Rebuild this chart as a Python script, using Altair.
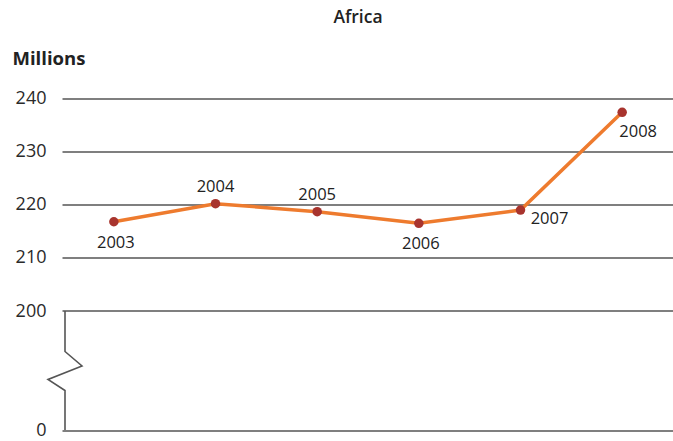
import altair as alt
import pandas as pd

# Population (millions) by year
years = [2003, 2004, 2005, 2006, 2007, 2008]
values = [216.8, 220.2, 218.7, 216.5, 219.0, 237.4]
label_side = ["below", "above", "above", "below", "right", "below-right"]
y_ticks = [0, 200, 210, 220, 230, 240]
chart_title = ["Africa"]

FONT = "Open Sans"
W, H = 611, 331.5              # plot area
Y_TOP, Y_BREAK = 240, 200      # upper band shown to scale
BAND_PX = 212.5                # pixel height of the 200-240 band
px_per_unit = BAND_PX / (Y_TOP - Y_BREAK)
LOW_SPAN = (H - BAND_PX) / px_per_unit   # display units used by the squeezed 0-200 band
Y_ZERO = Y_BREAK - LOW_SPAN             # display position of the 0 line
X_DOMAIN = [2002.49, 2008.5]


def to_display(v):
    """Map a value onto the broken axis (0-200 compressed into the bottom band)."""
    return v if v >= Y_BREAK else Y_BREAK - (Y_BREAK - v) / Y_BREAK * LOW_SPAN


df = pd.DataFrame({
    "year": years,
    "value": values,
    "pos": [to_display(v) for v in values],
    "side": label_side,
})

x_scale = alt.Scale(domain=X_DOMAIN, nice=False, zero=False)
y_scale = alt.Scale(domain=[Y_ZERO, Y_TOP], nice=False, zero=False)
tick_pos = [to_display(t) for t in y_ticks]

x_enc = alt.X("year:Q", scale=x_scale, axis=None)
y_enc = alt.Y(
    "pos:Q",
    scale=y_scale,
    axis=alt.Axis(
        values=tick_pos,
        labelExpr=f"datum.value < {Y_BREAK - 1} ? '0' : format(datum.value, 'd')",
        grid=True,
        gridColor="#555555",
        gridWidth=1.6,
        ticks=False,
        domain=False,
        labelFont=FONT,
        labelFontSize=18,
        labelColor="#2a2a2a",
        labelPadding=16,
        title="Millions",
        titleAngle=0,
        titleAlign="left",
        titleBaseline="alphabetic",
        titleX=-50,
        titleY=-34,
        titleFont=FONT,
        titleFontSize=18.5,
        titleFontWeight="bold",
        titleColor="#222222",
    ),
)

base = alt.Chart(df)

line = base.mark_line(color="#EE7B2E", strokeWidth=3.5).encode(x=x_enc, y=y_enc)
points = base.mark_circle(color="#A8342E", size=90, opacity=1).encode(x=x_enc, y=y_enc)

# year labels placed around each point
placements = {
    "below": (2, 21),
    "above": (0, -17),
    "right": (29, 9),
    "below-right": (16, 20),
}
labels = [
    base.transform_filter(alt.datum.side == side)
    .mark_text(font=FONT, fontSize=16.5, color="#222222", baseline="middle", dx=ox, dy=oy)
    .encode(x=x_enc, y=y_enc, text=alt.Text("year:N"))
    for side, (ox, oy) in placements.items()
]

# left border of the lower band with a zig-zag axis-break glyph (pixel offsets)
px_per_year = W / (X_DOMAIN[1] - X_DOMAIN[0])
break_px = [(3, BAND_PX), (3, 253), (20, 267.5), (-14, 281), (3, 292), (3, H)]
brk = pd.DataFrame({
    "i": list(range(len(break_px))),
    "year": [X_DOMAIN[0] + bx / px_per_year for bx, _ in break_px],
    "pos": [Y_TOP - by / px_per_unit for _, by in break_px],
})
break_line = alt.Chart(brk).mark_line(color="#555555", strokeWidth=1.6).encode(
    x=x_enc,
    y=y_enc,
    order=alt.Order("i:Q"),
)

# chart heading, centred above the panel
heading = alt.Chart(pd.DataFrame({"t": chart_title})).mark_text(
    font=FONT, fontSize=17.5, fontWeight=600, color="#222222", baseline="middle", align="center"
).encode(x=alt.value(296), y=alt.value(-80.5), text="t:N")

chart = (
    alt.layer(break_line, line, points, *labels, heading)
    .properties(
        width=W,
        height=H,
        autosize="none",
        background="white",
        padding={"left": 62, "top": 98.5, "right": 0, "bottom": 11.5},
    )
    .configure_view(strokeWidth=0)
)

chart.save("out.html", embed_options={"renderer": "svg", "actions": False})
